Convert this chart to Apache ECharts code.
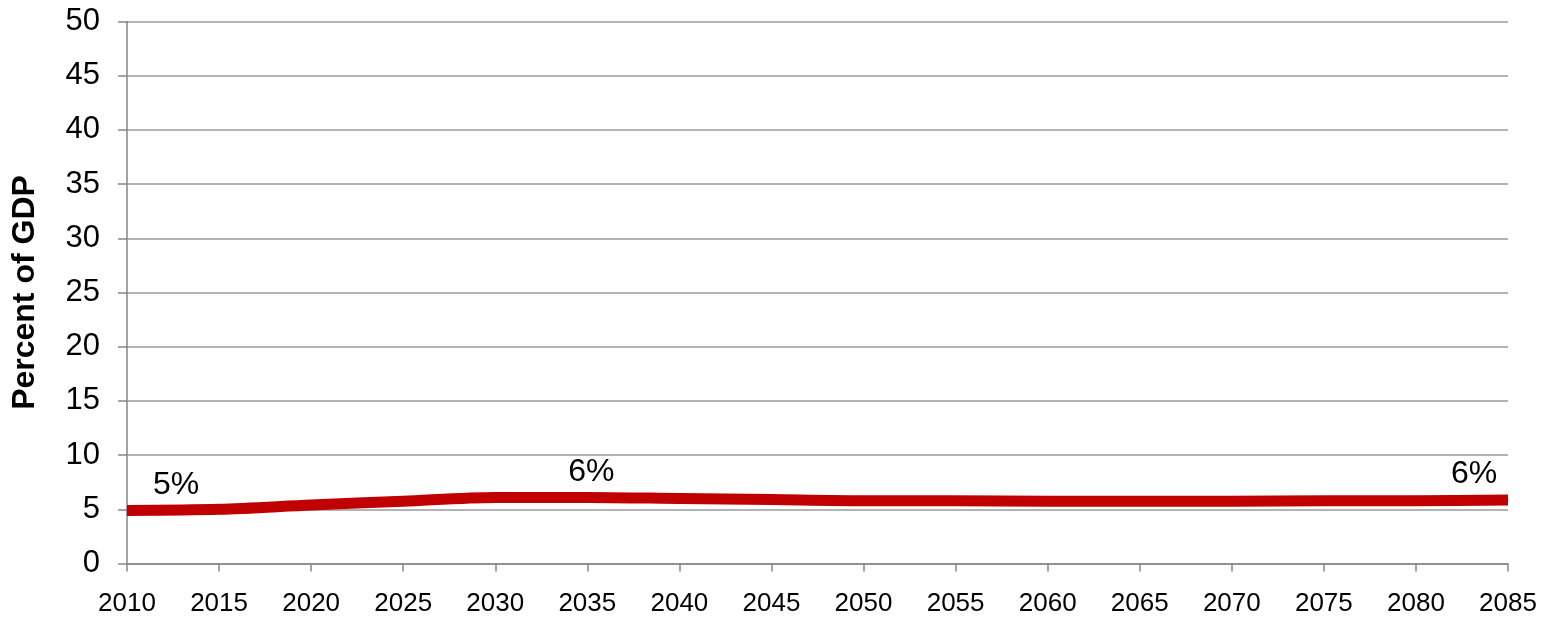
<!DOCTYPE html>
<html>
<head>
<meta charset="utf-8">
<script src="https://cdn.jsdelivr.net/npm/echarts@6/dist/echarts.min.js"></script>
<style>
  html, body { margin: 0; padding: 0; background: #fff; }
  #chart { width: 1550px; height: 618px; }
</style>
</head>
<body>
<div id="chart"></div>
<script>
// years on the x axis
const years = ['2010', '2015', '2020', '2025', '2030', '2035', '2040', '2045',
  '2050', '2055', '2060', '2065', '2070', '2075', '2080', '2085'];
// percent of GDP
const values = [4.9, 5.0, 5.4, 5.75, 6.1, 6.1, 6.0, 5.9, 5.8, 5.8, 5.75, 5.75, 5.75, 5.8, 5.8, 5.85];
// callouts over the line
const calloutYears = ['2010', '2035', '2085'];
const calloutTexts = ['5%', '6%', '6%'];
const calloutShift = [49, 4, -34];

const font = 'Liberation Sans, Arial, sans-serif';

const seriesData = values.map((v, i) => {
  const k = calloutYears.indexOf(years[i]);
  if (k < 0) return v;
  return {
    value: v,
    label: {
      show: true,
      position: 'top',
      distance: 9,
      offset: [calloutShift[k], 0],
      formatter: calloutTexts[k],
      color: '#000',
      fontSize: 32,
      fontFamily: font
    }
  };
});

const chart = echarts.init(document.getElementById('chart'));
chart.setOption({
  animation: false,
  grid: { left: 127, right: 42, top: 21.5, bottom: 54.5, containLabel: false },
  xAxis: {
    type: 'category',
    data: years,
    boundaryGap: false,
    axisLine: { lineStyle: { color: '#868686', width: 1.5 } },
    axisTick: { show: true, length: 8, alignWithLabel: true, lineStyle: { color: '#868686', width: 1.5 } },
    axisLabel: { color: '#000', fontSize: 26, fontFamily: font, margin: 27, interval: 0 },
    splitLine: { show: false }
  },
  yAxis: {
    type: 'value',
    min: 0,
    max: 50,
    interval: 5,
    name: 'Percent of GDP',
    nameLocation: 'middle',
    nameGap: 86,
    nameTextStyle: { color: '#000', fontSize: 32, fontWeight: 'bold', fontFamily: font },
    axisLine: { show: true, lineStyle: { color: '#868686', width: 1.5 } },
    axisTick: { show: true, length: 9, lineStyle: { color: '#868686', width: 1.5 } },
    axisLabel: { color: '#000', fontSize: 31, fontFamily: font, margin: 27 },
    splitLine: { show: true, lineStyle: { color: '#9a9a9a', width: 1.5 } }
  },
  series: [{
    type: 'line',
    data: seriesData,
    smooth: 0.3,
    symbol: 'circle',
    symbolSize: 1,
    showSymbol: true,
    lineStyle: { color: '#C00000', width: 11, cap: 'butt', join: 'round' },
    itemStyle: { color: '#C00000' }
  }]
});
</script>
</body>
</html>
